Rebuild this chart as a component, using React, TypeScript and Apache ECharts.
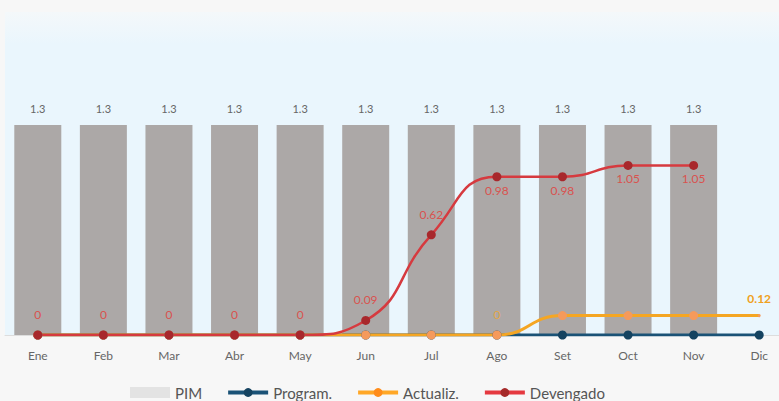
import React, { useEffect, useRef } from "react";
import * as echarts from "echarts";

const months = ["Ene", "Feb", "Mar", "Abr", "May", "Jun", "Jul", "Ago", "Set", "Oct", "Nov", "Dic"];
const pim = [1.3, 1.3, 1.3, 1.3, 1.3, 1.3, 1.3, 1.3, 1.3, 1.3, 1.3, null];
const program = [0, 0, 0, 0, 0, 0, 0, 0, 0, 0, 0, 0];
const actualiz = [0, 0, 0, 0, 0, 0, 0, 0, 0.12, 0.12, 0.12, 0.12];
const devengado = [0, 0, 0, 0, 0, 0.09, 0.62, 0.98, 0.98, 1.05, 1.05, null];
const actualizLabelIdx = [7, 11];

export default function App() {
  const ref = useRef<HTMLDivElement>(null);
  useEffect(() => {
    if (!ref.current) return;
    const chart = echarts.init(ref.current, null, { renderer: "svg" });
    const option: any = {
      animation: false,
      backgroundColor: "#f7f7f7",
      textStyle: { fontFamily: "Lato" },
      grid: {
        left: 5,
        top: 12,
        width: 787,
        height: 323,
        outerBoundsMode: "none",
        containLabel: false,
        show: true,
        borderWidth: 0,
        backgroundColor: new echarts.graphic.LinearGradient(0, 0, 0, 1, [
          { offset: 0, color: "#f4f8fa" },
          { offset: 0.1, color: "#eaf6fd" },
          { offset: 1, color: "#eaf6fd" },
        ]),
      },
      legend: {
        left: 125,
        top: 380,
        itemWidth: 40,
        itemHeight: 11,
        itemGap: 24,
        textStyle: { fontSize: 15, color: "#555", fontFamily: "Lato" },
        data: [
          { name: "PIM", icon: "rect", itemStyle: { color: "#e3e3e3" } },
          { name: "Program.", lineStyle: { width: 4 } },
          { name: "Actualiz.", lineStyle: { width: 4, color: "#ffa726" }, itemStyle: { color: "#ff8c1a" } },
          { name: "Devengado", lineStyle: { width: 4, color: "#e53940" }, itemStyle: { color: "#a52a2a" } },
        ],
      },
      xAxis: {
        type: "category",
        data: months,
        axisLine: { lineStyle: { color: "#dddddd" } },
        axisTick: { show: false },
        axisLabel: { color: "#666", fontSize: 12, margin: 14, fontFamily: "Lato" },
      },
      yAxis: { type: "value", min: 0, max: 2, show: false },
      series: [
        {
          name: "PIM",
          type: "bar",
          data: pim,
          barWidth: 47,
          itemStyle: { color: "#aca8a7" },
          label: { show: true, position: "top", distance: 11, color: "#666", fontSize: 11 },
        },
        {
          name: "Program.",
          type: "line",
          data: program,
          smooth: true,
          symbol: "circle",
          symbolSize: 9,
          lineStyle: { color: "#1a5276", width: 3 },
          itemStyle: { color: "#154360" },
        },
        {
          name: "Actualiz.",
          type: "line",
          data: actualiz.map((v, i) => {
            const shown = actualizLabelIdx.indexOf(i) >= 0;
            const last = i === actualiz.length - 1;
            return {
              value: v,
              symbolSize: last ? 3 : 9,
              label: {
                show: shown,
                fontWeight: last ? "bold" : "normal",
                color: last ? "#f0a020" : "rgba(245,166,35,0.75)",
              },
            };
          }),
          smooth: true,
          symbol: "circle",
          symbolSize: 9,
          lineStyle: { color: "#f5a623", width: 3 },
          itemStyle: { color: "#f59a5c" },
          label: { position: "top", distance: 10, fontSize: 12 },
        },
        {
          name: "Devengado",
          type: "line",
          data: devengado.map((v, i) => ({
            value: v,
            label: { position: i >= 7 ? "bottom" : "top", distance: i >= 7 ? 3 : 10 },
          })),
          smooth: true,
          symbol: "circle",
          symbolSize: 9,
          lineStyle: { color: "#d63a3f", width: 2.5 },
          itemStyle: { color: "#a8282c" },
          label: { show: true, color: "#d9534f", fontSize: 12 },
        },
      ],
    };
    chart.setOption(option);
    return () => chart.dispose();
  }, []);
  return (
    <div
      ref={ref}
      style={{ position: "absolute", left: 0, top: 0, width: 779, height: 401 }}
    />
  );
}
